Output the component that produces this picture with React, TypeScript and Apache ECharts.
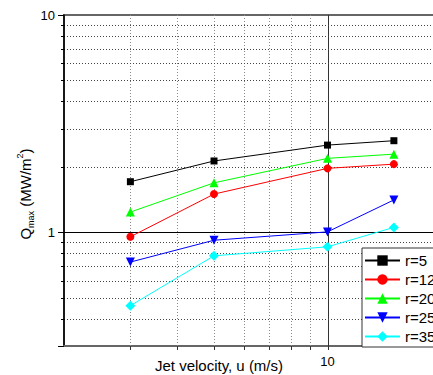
import React, { useEffect, useRef } from 'react';
import * as echarts from 'echarts';

const FONT = '"Liberation Sans", Arial, Helvetica, sans-serif';

const xValues = [3, 5, 10, 15];
const seriesNames = ['r=5', 'r=12', 'r=20', 'r=25', 'r=35'];
const r5 = [1.71, 2.13, 2.52, 2.64];
const r12 = [0.954, 1.5, 1.97, 2.06];
const r20 = [1.24, 1.69, 2.19, 2.29];
const r25 = [0.73, 0.92, 1.005, 1.41];
const r35 = [0.46, 0.78, 0.858, 1.054];

const xRange = [2, 20];
const yRange = [0.3, 10];
const xMinorGrid = [3, 4, 5, 6, 7, 8, 9];
const yMinorGrid = [0.4, 0.5, 0.6, 0.7, 0.8, 0.9, 2, 3, 4, 5, 6, 7, 8, 9];
const xMajorGrid = [10];
const yMajorGrid = [1];
const xTickLabels = [10];
const yTickLabels = [1, 10];

const seriesValues = [r5, r12, r20, r25, r35];
const seriesColors = ['#000000', '#ff0000', '#00ff00', '#0000ff', '#00ffff'];
const seriesSymbols = ['rect', 'circle', 'triangle', 'triangle', 'diamond'];
const seriesSymbolSizes = [7, 8, 9, 9, 10];
const seriesSymbolRotate = [0, 0, 0, 180, 0];

const crisp = (v: number) => Math.round(v) + 0.5;

function labelFormatter(list: number[]) {
  return (v: number) => {
    const m = list.find((t) => Math.abs(t - v) < 1e-6 * t);
    return m === undefined ? '' : String(m);
  };
}

function vGrid(major: boolean) {
  return (params: any, api: any) => {
    const v = api.value(0);
    const p0 = api.coord([v, yRange[0]]);
    const p1 = api.coord([v, yRange[1]]);
    const x = crisp(p0[0]);
    return {
      type: 'group',
      children: [
        {
          type: 'line',
          shape: { x1: x, y1: p0[1], x2: x, y2: p1[1] },
          style: major
            ? { stroke: '#333', lineWidth: 1 }
            : { stroke: '#888', lineWidth: 1, lineDash: [1, 2] },
        },
        {
          type: 'line',
          shape: { x1: x, y1: p0[1], x2: x, y2: p0[1] + 4 },
          style: { stroke: '#333', lineWidth: 1 },
        },
      ],
    };
  };
}

function hGrid(major: boolean) {
  return (params: any, api: any) => {
    const v = api.value(1);
    const p0 = api.coord([xRange[0], v]);
    const p1 = api.coord([xRange[1], v]);
    const y = crisp(p0[1]);
    return {
      type: 'group',
      children: [
        {
          type: 'line',
          shape: { x1: p0[0], y1: y, x2: p1[0], y2: y },
          style: major
            ? { stroke: '#000', lineWidth: 1 }
            : { stroke: '#444', lineWidth: 1, lineDash: [1, 2] },
        },
        {
          type: 'line',
          shape: { x1: p0[0] - 3, y1: y, x2: p0[0] + 1, y2: y },
          style: { stroke: '#000', lineWidth: 1 },
        },
      ],
    };
  };
}

export default function App() {
  const ref = useRef<HTMLDivElement>(null);
  useEffect(() => {
    if (!ref.current) return;
    const chart = echarts.init(ref.current, undefined, { renderer: 'svg' });
    const lineSeries = seriesNames.map((name, i) => ({
      name,
      type: 'line',
      data: xValues.map((x, j) => [x, seriesValues[i][j]]),
      symbol: seriesSymbols[i],
      symbolSize: seriesSymbolSizes[i],
      symbolRotate: seriesSymbolRotate[i],
      showAllSymbol: true,
      itemStyle: { color: seriesColors[i] },
      lineStyle: { color: seriesColors[i], width: 1 },
      z: 5,
    }));
    const gridSeries = [
      { data: xMinorGrid.map((v) => [v, yRange[0]]), renderItem: vGrid(false) },
      { data: xMajorGrid.map((v) => [v, yRange[0]]), renderItem: vGrid(true) },
      { data: yMinorGrid.map((v) => [xRange[0], v]), renderItem: hGrid(false) },
      { data: yMajorGrid.map((v) => [xRange[0], v]), renderItem: hGrid(true) },
    ].map((s) => ({
      type: 'custom',
      silent: true,
      clip: false,
      z: 1,
      ...s,
    }));
    chart.setOption({
      animation: false,
      backgroundColor: '#fff',
      grid: {
        left: 64,
        top: 15,
        right: 19,
        bottom: 29,
        show: true,
        borderColor: '#666',
        borderWidth: 2,
        backgroundColor: 'transparent',
      },
      xAxis: {
        type: 'log',
        logBase: 10,
        min: xRange[0],
        max: xRange[1],
        axisLine: { lineStyle: { color: '#666', width: 2 } },
        axisTick: { show: false },
        splitLine: { show: false },
        minorTick: { show: false },
        axisLabel: {
          formatter: labelFormatter(xTickLabels),
          fontSize: 13,
          fontFamily: FONT,
          color: '#000',
          margin: 9,
          showMinLabel: true,
          showMaxLabel: true,
        },
      },
      yAxis: {
        type: 'log',
        logBase: 10,
        min: yRange[0],
        max: yRange[1],
        axisLine: { show: true, lineStyle: { color: '#000', width: 1.5 } },
        axisTick: { show: true, length: 6, lineStyle: { color: '#000' } },
        splitLine: { show: false },
        minorTick: { show: false },
        axisLabel: {
          formatter: labelFormatter(yTickLabels),
          fontSize: 13,
          fontFamily: FONT,
          color: '#000',
          margin: 9,
        },
      },
      legend: {
        data: seriesNames,
        orient: 'vertical',
        left: 362,
        top: 248,
        itemWidth: 35,
        itemHeight: 13,
        itemGap: 4,
        padding: [5, 30, 3, 2],
        borderColor: '#333',
        borderWidth: 1,
        backgroundColor: '#fff',
        textStyle: { fontSize: 15, fontFamily: FONT, color: '#000' },
      },
      graphic: [
        {
          type: 'text',
          x: 25,
          y: 194,
          rotation: Math.PI / 2,
          style: {
            text: '{q|Q}{s|max}{q| (MW/m}{p|2}{q|)}',
            align: 'center',
            verticalAlign: 'middle',
            fill: '#000',
            rich: {
              q: { fontSize: 15, fontFamily: FONT, lineHeight: 20, verticalAlign: 'middle', fill: '#000' },
              s: { fontSize: 9, fontFamily: FONT, verticalAlign: 'bottom', fill: '#000' },
              p: { fontSize: 9, fontFamily: FONT, verticalAlign: 'top', fill: '#000' },
            },
          },
        },
        {
          type: 'text',
          x: 219,
          y: 365,
          style: {
            text: 'Jet velocity, u (m/s)',
            align: 'center',
            verticalAlign: 'middle',
            fontSize: 15,
            fontFamily: FONT,
            fill: '#000',
          },
        },
      ],
      series: [...gridSeries, ...lineSeries],
    });
    return () => chart.dispose();
  }, []);
  return (
    <div
      style={{
        position: 'fixed',
        left: 0,
        top: 0,
        width: 433,
        height: 375,
        overflow: 'hidden',
        background: '#fff',
      }}
    >
      <div ref={ref} style={{ width: 460, height: 375 }} />
    </div>
  );
}
